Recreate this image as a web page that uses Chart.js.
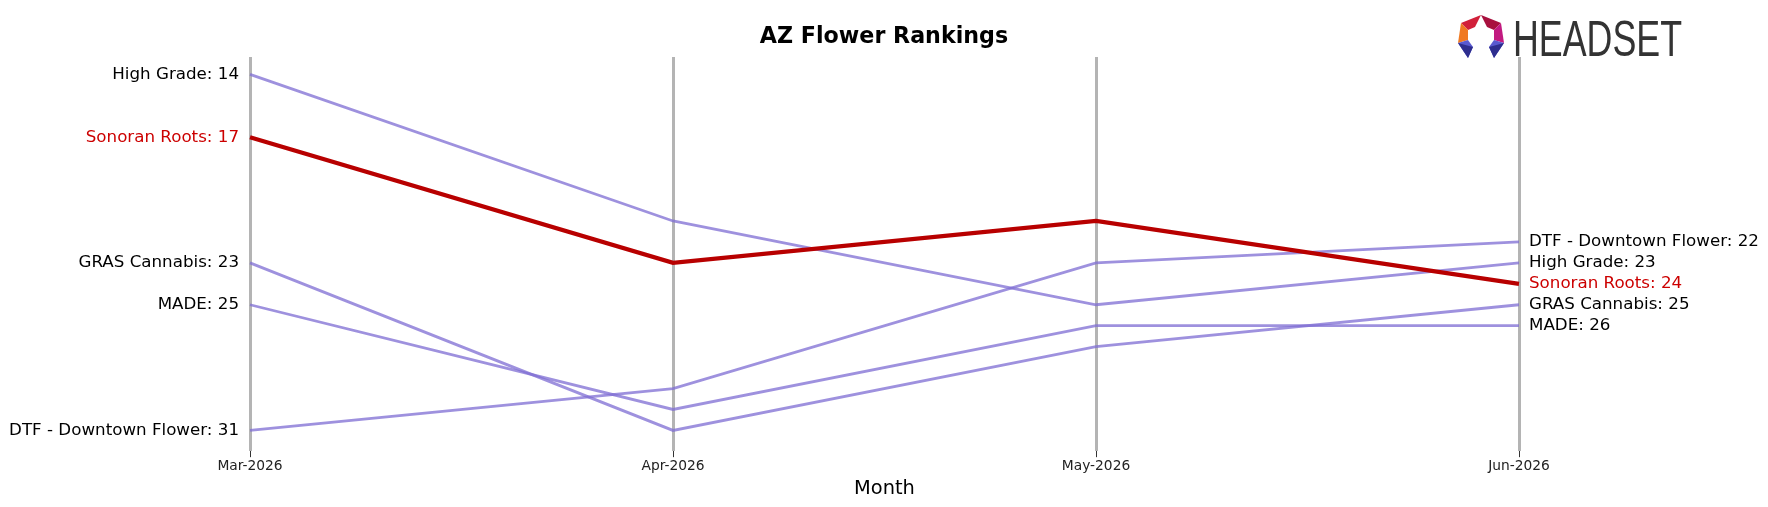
<!DOCTYPE html>
<html>
<head>
<meta charset="utf-8">
<script src="https://cdn.jsdelivr.net/npm/chart.js@4/dist/chart.umd.min.js"></script>
<style>
  html, body { margin: 0; padding: 0; background: #fff; }
  #wrap { width: 1768px; height: 507px; }
</style>
</head>
<body>
<div id="wrap"><canvas id="rankChart" width="1768" height="507"></canvas></div>
<script>
// chart data
const months = ['Mar-2026', 'Apr-2026', 'May-2026', 'Jun-2026'];
const brands = ['High Grade', 'GRAS Cannabis', 'MADE', 'DTF - Downtown Flower', 'Sonoran Roots'];
const highGrade = [14, 21, 25, 23];
const grasCannabis = [23, 31, 27, 25];
const made = [25, 30, 26, 26];
const dtfDowntown = [31, 29, 23, 22];
const sonoranRoots = [17, 23, 21, 24];
const focusBrand = 'Sonoran Roots';

const FONT = "'DejaVu Sans', Verdana, sans-serif";
const seriesValues = [highGrade, grasCannabis, made, dtfDowntown, sonoranRoots];

const datasets = brands.map((name, i) => {
    const isFocus = name === focusBrand;
    return {
        label: name,
        data: seriesValues[i],
        borderColor: isFocus ? '#b80000' : 'rgba(128, 110, 212, 0.76)',
        borderWidth: isFocus ? 4.2 : 2.8,
        pointRadius: 0,
        tension: 0,
        fill: false,
        order: isFocus ? 0 : 1
    };
});

// labels at both ends of each line + title + logo
const endLabels = {
    id: 'endLabels',
    afterDatasetsDraw(chart) {
        const ctx = chart.ctx;
        const last = months.length - 1;
        ctx.save();
        ctx.font = '16.7px ' + FONT;
        ctx.textBaseline = 'middle';
        chart.data.datasets.forEach((ds, i) => {
            const meta = chart.getDatasetMeta(i);
            const color = ds.label === focusBrand ? '#cc0000' : '#000';
            ctx.fillStyle = color;
            const p0 = meta.data[0];
            ctx.textAlign = 'right';
            ctx.fillText(ds.label + ': ' + ds.data[0], p0.x - 11, p0.y);
            const p1 = meta.data[last];
            ctx.textAlign = 'left';
            ctx.fillText(ds.label + ': ' + ds.data[last], p1.x + 10, p1.y);
        });

        // title
        ctx.fillStyle = '#000';
        ctx.textAlign = 'center';
        ctx.font = 'bold 22.2px ' + FONT;
        ctx.fillText('AZ Flower Rankings', 884, 37);

        drawLogo(ctx);
        ctx.restore();
    }
};

function drawLogo(ctx) {
    // hexagon ring icon
    const cx = 1481, cy = 37;
    const tri = (pts, c) => {
        ctx.beginPath();
        ctx.moveTo(pts[0][0], pts[0][1]);
        for (let k = 1; k < pts.length; k++) ctx.lineTo(pts[k][0], pts[k][1]);
        ctx.closePath();
        ctx.fillStyle = c;
        ctx.fill();
    };
    tri([[cx - 20, cy - 14], [cx, cy - 22], [cx - 6, cy - 10], [cx - 13, cy - 7]], '#d1203a');
    tri([[cx, cy - 22], [cx + 20, cy - 14], [cx + 13, cy - 7], [cx + 6, cy - 10]], '#a8103e');
    tri([[cx - 20, cy - 14], [cx - 13, cy - 7], [cx - 13, cy + 3], [cx - 23, cy + 6]], '#f07a22');
    tri([[cx + 20, cy - 14], [cx + 23, cy + 6], [cx + 13, cy + 3], [cx + 13, cy - 7]], '#c21a80');
    tri([[cx - 23, cy + 6], [cx - 13, cy + 3], [cx - 8, cy + 10], [cx - 13, cy + 21]], '#5a5ad0');
    tri([[cx + 23, cy + 6], [cx + 13, cy + 21], [cx + 8, cy + 10], [cx + 13, cy + 3]], '#5a5ad0');
    tri([[cx - 23, cy + 6], [cx - 8, cy + 10], [cx - 13, cy + 21]], '#2e2e8e');
    tri([[cx + 23, cy + 6], [cx + 13, cy + 21], [cx + 8, cy + 10]], '#2e2e8e');

    // wordmark, squeezed to the reference width
    ctx.font = "50px 'Liberation Sans Narrow', 'Liberation Sans', sans-serif";
    ctx.textAlign = 'left';
    ctx.textBaseline = 'alphabetic';
    const w = ctx.measureText('HEADSET').width;
    ctx.save();
    ctx.translate(1513, 56);
    ctx.scale(169 / w, 1);
    ctx.fillStyle = '#333';
    ctx.fillText('HEADSET', 0, 0);
    ctx.restore();
}

new Chart(document.getElementById('rankChart'), {
    type: 'line',
    data: { labels: months, datasets: datasets },
    options: {
        responsive: false,
        animation: false,
        layout: { padding: { left: 250, right: 249, top: 57, bottom: 6 } },
        plugins: {
            legend: { display: false },
            tooltip: { enabled: false },
            title: { display: false }
        },
        scales: {
            x: {
                type: 'category',
                offset: false,
                border: { display: false },
                grid: {
                    color: '#b4b4b4',
                    lineWidth: 3,
                    tickColor: '#333',
                    tickLength: 6,
                    tickWidth: 1
                },
                ticks: {
                    color: '#222',
                    font: { family: FONT, size: 13.8 },
                    padding: 1,
                    maxRotation: 0
                },
                title: {
                    display: true,
                    text: 'Month',
                    color: '#000',
                    font: { family: FONT, size: 19.4 },
                    padding: { top: 2, bottom: 0 }
                }
            },
            y: {
                display: false,
                reverse: true,
                min: 13.17,
                max: 31.99
            }
        }
    },
    plugins: [endLabels]
});
</script>
</body>
</html>
